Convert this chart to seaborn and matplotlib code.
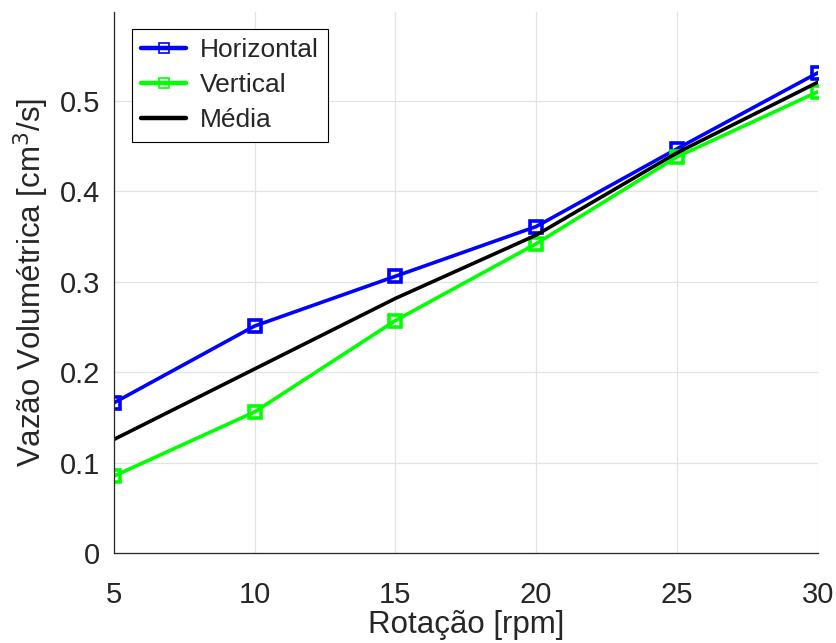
import numpy as np
import pandas as pd
import seaborn as sns
import matplotlib.pyplot as plt

# data
rotacao = [5, 10, 15, 20, 25, 30]
vazao_horizontal = [0.166, 0.251, 0.306, 0.361, 0.447, 0.531]
vazao_vertical = [0.085, 0.156, 0.257, 0.342, 0.438, 0.510]
vazao_media = [0.1255, 0.2035, 0.2815, 0.3515, 0.4425, 0.5205]
y_ticks = [0, 0.1, 0.2, 0.3, 0.4, 0.5]

sns.set_theme(style="whitegrid")
plt.rcParams['font.family'] = ['Liberation Sans', 'DejaVu Sans']

fig = plt.figure(figsize=(8.37, 6.43), dpi=100)
ax = fig.add_axes([0.136, 0.14, 0.841, 0.841])

dark = '#262626'

sns.lineplot(x=rotacao, y=vazao_horizontal, ax=ax, color='#0000ff', lw=2.6,
             marker='s', ms=8, mfc='none', mec='#0000ff', mew=2.6,
             label='Horizontal')
sns.lineplot(x=rotacao, y=vazao_vertical, ax=ax, color='#00ff00', lw=2.6,
             marker='s', ms=8, mfc='none', mec='#00ff00', mew=2.6,
             label='Vertical')
sns.lineplot(x=rotacao, y=vazao_media, ax=ax, color='black', lw=2.6,
             label='Média')

ax.set_xlim(5, 30)
ax.set_ylim(0, 0.598)
ax.set_xticks(rotacao)
ax.set_yticks(y_ticks)
ax.set_yticklabels(['0', '0.1', '0.2', '0.3', '0.4', '0.5'])

ax.grid(True, color='#e3e3e3', lw=0.9)
for side in ['top', 'right']:
    ax.spines[side].set_visible(False)
for side in ['left', 'bottom']:
    ax.spines[side].set_color(dark)
    ax.spines[side].set_linewidth(0.9)
ax.tick_params(direction='in', length=5, width=0.9, colors=dark,
               labelsize=21, pad=10)
ax.tick_params(axis='x', pad=20)

ax.set_xlabel('Rotação [rpm]', fontsize=22.5, color=dark, labelpad=1)
ax.set_ylabel('Vazão Volumétrica [cm$^3$/s]', fontsize=22.5, color=dark,
              labelpad=6)

leg = ax.legend(loc='upper left', bbox_to_anchor=(0.026, 0.969), fontsize=19,
                frameon=True, fancybox=False, framealpha=1,
                edgecolor='black', handlelength=1.7, handletextpad=0.5,
                borderpad=0.35, labelspacing=0.42, markerscale=0.9,
                borderaxespad=0)
leg.get_frame().set_linewidth(0.8)
for line in leg.get_lines():
    line.set_markeredgewidth(1.2)
    line.set_linewidth(3.2)

fig.savefig('out.png', dpi=100)
